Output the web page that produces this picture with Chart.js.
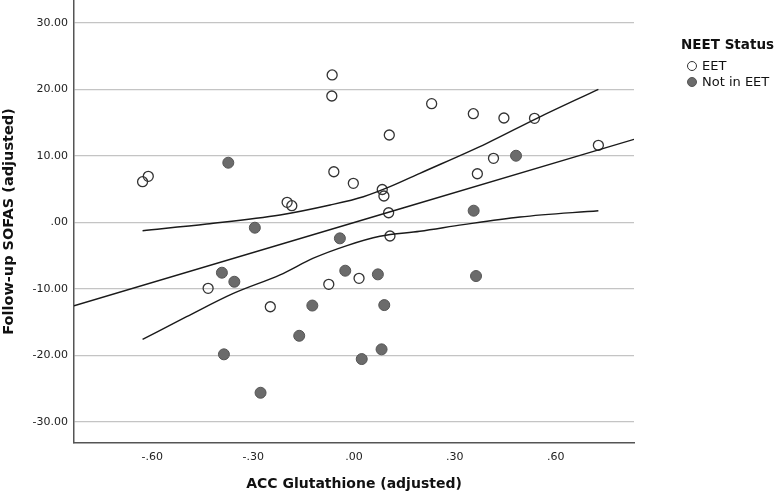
<!DOCTYPE html>
<html>
<head>
<meta charset="utf-8">
<script src="https://cdn.jsdelivr.net/npm/chart.js@4.4.1/dist/chart.umd.min.js"></script>
<style>
  body { margin: 0; background: #fff; }
  #wrap { position: relative; width: 777px; height: 496px; }
  .leg { position: absolute; font-family: "DejaVu Sans", sans-serif; color: #111; white-space: nowrap; line-height: 16px; }
  .dot { position: absolute; width: 10px; height: 10px; border-radius: 50%; box-sizing: border-box; }
</style>
</head>
<body>
<div id="wrap">
  <canvas id="sofasChart" width="777" height="496"></canvas>
  <div class="leg" style="left:681px; top:36px; font-size:13.5px; font-weight:bold;">NEET Status</div>
  <div class="dot" style="left:687px; top:61px; border:1.3px solid #333; background:#fff;"></div>
  <div class="leg" style="left:702px; top:58px; font-size:13px;">EET</div>
  <div class="dot" style="left:687px; top:77px; border:1px solid #555; background:#6b6b6b;"></div>
  <div class="leg" style="left:702px; top:74px; font-size:13px;">Not in EET</div>
</div>
<script>
// EET participants (open circles)
const eetX = [-0.629, -0.612, -0.434, -0.249, -0.199, -0.185, -0.065, -0.066, -0.060, -0.002,
              -0.075, 0.015, 0.105, 0.084, 0.089, 0.103, 0.107, 0.231, 0.355, 0.446,
              0.537, 0.727, 0.415, 0.367];
const eetY = [6.11, 6.92, -9.93, -12.70, 3.01, 2.50, 22.17, 19.01, 7.61, 5.87,
              -9.33, -8.43, 13.14, 4.94, 3.96, 1.44, -2.06, 17.85, 16.34, 15.70,
              15.65, 11.59, 9.63, 7.31];

// Not in EET (filled circles)
const notX = [-0.374, -0.295, -0.042, -0.393, -0.356, -0.124, -0.163, -0.387, -0.278,
              -0.026, 0.071, 0.090, 0.082, 0.023, 0.363, 0.482, 0.356];
const notY = [8.97, -0.81, -2.41, -7.58, -8.94, -12.52, -17.07, -19.86, -25.64,
              -7.28, -7.83, -12.45, -19.11, -20.57, -8.08, 10.02, 1.75];

// regression line and confidence band
const fitX = [-0.833, 0.833];
const fitY = [-12.55, 12.49];
const upperX = [-0.629, -0.438, -0.220, -0.071, 0.028, 0.107, 0.196, 0.395, 0.544, 0.727];
const upperY = [-1.26, -0.26, 1.10, 2.60, 3.85, 5.36, 7.37, 11.89, 15.65, 20.01];
const lowerX = [-0.629, -0.498, -0.359, -0.220, -0.121, -0.021, 0.077, 0.196, 0.325, 0.494, 0.727];
const lowerY = [-17.61, -14.2, -10.7, -7.9, -5.4, -3.5, -2.1, -1.35, -0.35, 0.8, 1.75];

const xTicks = [-0.6, -0.3, 0, 0.3, 0.6];
const xTickLabels = ['-.60', '-.30', '.00', '.30', '.60'];
const yTicks = [-30, -20, -10, 0, 10, 20, 30];
const yTickLabels = ['-30.00', '-20.00', '-10.00', '.00', '10.00', '20.00', '30.00'];

function toPoints(xs, ys) {
    return xs.map((x, i) => ({ x: x, y: ys[i] }));
}

function lineSet(xs, ys) {
    return {
        data: toPoints(xs, ys),
        showLine: true,
        pointRadius: 0,
        borderColor: '#1a1a1a',
        borderWidth: 1.4,
        cubicInterpolationMode: 'monotone',
        fill: false
    };
}

const tickFont = { family: 'DejaVu Sans', size: 11 };
const titleFont = { family: 'DejaVu Sans', size: 14, weight: 'bold' };

new Chart(document.getElementById('sofasChart').getContext('2d'), {
    type: 'scatter',
    data: {
        datasets: [
            lineSet(fitX, fitY),
            lineSet(upperX, upperY),
            lineSet(lowerX, lowerY),
            {
                label: 'EET',
                data: toPoints(eetX, eetY),
                pointRadius: 5,
                pointBorderWidth: 1.3,
                pointBackgroundColor: 'rgba(255,255,255,0)',
                pointBorderColor: '#333'
            },
            {
                label: 'Not in EET',
                data: toPoints(notX, notY),
                pointRadius: 5.5,
                pointBorderWidth: 1,
                pointBackgroundColor: '#6b6b6b',
                pointBorderColor: '#555'
            }
        ]
    },
    options: {
        responsive: false,
        animation: false,
        layout: { autoPadding: false, padding: { left: 0, right: 143, top: 0, bottom: 0 } },
        plugins: { legend: { display: false }, tooltip: { enabled: false } },
        scales: {
            x: {
                type: 'linear',
                min: -0.833,
                max: 0.833,
                afterBuildTicks: s => { s.ticks = xTicks.map(v => ({ value: v })); },
                ticks: {
                    callback: v => xTickLabels[xTicks.indexOf(v)],
                    font: tickFont, color: '#222', padding: 8, maxRotation: 0, autoSkip: false
                },
                grid: { display: false, drawTicks: false },
                border: { display: true, color: '#555', width: 1.5 },
                title: { display: true, text: 'ACC Glutathione (adjusted)', font: titleFont, color: '#111',
                         padding: { top: 0, bottom: 3 } },
                afterFit: s => { s.height = 53; s.paddingLeft = 0; s.paddingRight = 0; }
            },
            y: {
                type: 'linear',
                min: -33.2,
                max: 33.45,
                afterBuildTicks: s => { s.ticks = yTicks.map(v => ({ value: v })); },
                ticks: {
                    callback: v => yTickLabels[yTicks.indexOf(v)],
                    font: tickFont, color: '#222', padding: 6, autoSkip: false
                },
                grid: { color: '#c4c4c4', lineWidth: 1.3, drawTicks: false },
                border: { display: true, color: '#555', width: 1.5 },
                title: { display: true, text: 'Follow-up SOFAS (adjusted)',
                         font: { family: 'DejaVu Sans', size: 14.5, weight: 'bold' }, color: '#111',
                         padding: { top: 1, bottom: 0 } },
                afterFit: s => { s.width = 74; s.paddingTop = 0; s.paddingBottom = 0; }
            }
        }
    }
});
</script>
</body>
</html>
